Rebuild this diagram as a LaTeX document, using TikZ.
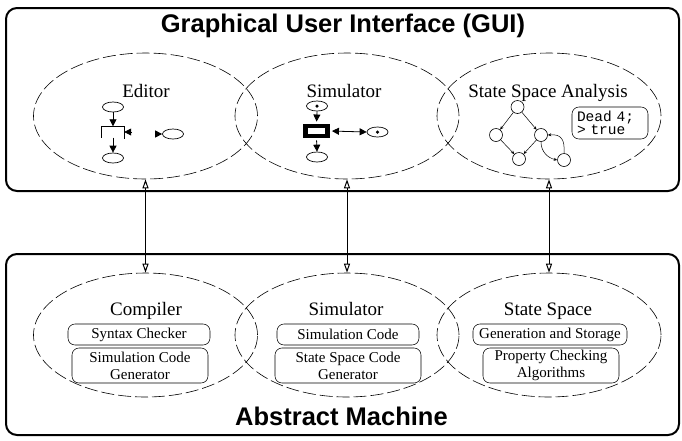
\documentclass[tikz,border=0pt]{standalone}
\usepackage{fontspec}
\setmainfont{Liberation Serif}
\setsansfont{Liberation Sans}
\setmonofont{Liberation Mono}
\usetikzlibrary{shapes.geometric,arrows.meta}
\begin{document}
\begin{tikzpicture}[x=1pt,y=-1pt]
\tikzset{
 bigbox/.style={draw, line width=2pt, rounded corners=11pt, inner sep=0},
 ttl/.style={font=\fontsize{25.5}{30}\selectfont\sffamily\bfseries, anchor=base, inner sep=0},
 zone/.style={draw, ellipse, dash pattern=on 13pt off 4pt, line width=0.6pt, minimum width=224pt, inner sep=0},
 lbl/.style={font=\fontsize{19}{22}\selectfont, anchor=base, inner sep=0},
 part/.style={draw, line width=0.55pt, rounded corners=7pt, align=center, font=\fontsize{15}{17}\selectfont, inner sep=0},
 place/.style={draw, ellipse, line width=0.7pt, minimum width=21pt, minimum height=10pt, inner sep=0},
 tok/.style={circle, fill, minimum size=3.5pt, inner sep=0},
 pnarc/.style={line width=0.8pt, -{Triangle[length=7pt,width=7pt]}},
 state/.style={draw, circle, line width=0.6pt, minimum size=13pt, inner sep=0},
 sarc/.style={line width=0.5pt, -{Stealth[length=3.5pt,width=3pt]}},
 link/.style={line width=1pt, {Triangle[open,length=9pt,width=6pt]}-{Triangle[open,length=9pt,width=6pt]}},
}
\useasboundingbox (0,0) rectangle (682,440);

% outer boxes
\node[bigbox, minimum width=673pt, minimum height=183pt] (gui) at (342.5,99.5) {};
\node[bigbox, minimum width=673pt, minimum height=181pt] (am) at (342.5,344.5) {};
\node[ttl] (guititle) at (343,32) {Graphical User Interface (GUI)};
\node[ttl] (amtitle) at (341.5,425) {Abstract Machine};

% ellipses
\node[zone, minimum height=126pt] (ged) at (145.5,116) {};
\node[zone, minimum height=126pt] (gsim) at (347,116) {};
\node[zone, minimum height=126pt] (gssa) at (549,116) {};
\node[zone, minimum height=124pt] (bcomp) at (145.5,335) {};
\node[zone, minimum height=124pt] (bsim) at (347,335) {};
\node[zone, minimum height=124pt] (bss) at (549,335) {};

% labels
\node[lbl] (ledit) at (146,97) {Editor};
\node[lbl] (lsim) at (344,97) {Simulator};
\node[lbl] (lssa) at (548,97) {State Space Analysis};
\node[lbl] (lcomp) at (146,315) {Compiler};
\node[lbl] (lbsim) at (346,315) {Simulator};
\node[lbl] (lss) at (548,315) {State Space};

% parts
\node[part, minimum width=142pt, minimum height=21pt] (syn) at (139,334.5) {Syntax Checker};
\node[part, minimum width=136pt, minimum height=35pt] (scg) at (140,365.5) {Simulation Code\\Generator};
\node[part, minimum width=142pt, minimum height=21pt] (simc) at (348,334.5) {Simulation Code};
\node[part, minimum width=146pt, minimum height=35pt] (sscg) at (348,365.5) {State Space Code\\Generator};
\node[part, minimum width=154pt, minimum height=21pt] (gas) at (550,334.5) {Generation and Storage};
\node[part, minimum width=136pt, minimum height=35pt] (pca) at (551,365.5) {Property Checking\\Algorithms};

% links
\draw[link] (ged.south) -- (bcomp.north);
\draw[link] (gsim.south) -- (bsim.north);
\draw[link] (gssa.south) -- (bss.north);

% editor icons
\node[place] (ep1) at (113,107) {};
\node[minimum width=22pt, minimum height=11pt, inner sep=0] (et) at (113,132) {};
\draw[line width=0.8pt] (et.south west) -- (et.north west) -- (et.north east) -- ([yshift=-1pt]et.south east);
\node[place] (ep2) at (113,158) {};
\node[place] (ep3) at (173,134) {};
\coordinate (etin) at (132,132);
\coordinate (ep3in) at (156,134);
\draw[pnarc] (ep1.south) -- (et.north);
\draw[pnarc] (et.south) -- (ep2.north);
\draw[pnarc] (etin) -- (et.east);
\draw[pnarc] (ep3in) -- (ep3.west);

% simulator icons
\node[place] (sp1) at (317,106) {};
\node[tok] (sp1t) at (sp1) {};
\node[draw, line width=4.5pt, minimum width=22pt, minimum height=10pt, inner sep=0] (st) at (316.5,131) {};
\node[place] (sp2) at (317,157) {};
\node[place] (sp3) at (377.5,132) {};
\node[tok] (sp3t) at (sp3) {};
\draw[pnarc, shorten >=2.2pt] (sp1.south) -- (st.north);
\draw[pnarc, shorten <=2.2pt] (st.south) -- (sp2.north);
\draw[line width=0.8pt, {Triangle[length=7pt,width=7pt]}-{Triangle[length=7pt,width=7pt]}, shorten <=2.2pt] (st.east) -- (sp3.west);

% state space graph
\node[state] (g1) at (517.5,107) {};
\node[state] (g2) at (496,135) {};
\node[state] (g3) at (541,135) {};
\node[state] (g4) at (519,159) {};
\node[state] (g5) at (564,160) {};
\draw[sarc] (g1) -- (g2);
\draw[sarc] (g1) -- (g3);
\draw[sarc] (g2) -- (g4);
\draw[sarc] (g3) -- (g4);
\draw[sarc] (g3.south) .. controls (541,152) and (548,158) .. (g5.west);
\draw[sarc] (g5.north) .. controls (565,139) and (561,134) .. (g3.east);

% result box
\node[draw, line width=0.55pt, rounded corners=7pt, minimum width=76pt, minimum height=32pt, text width=66pt, inner xsep=5pt, inner ysep=0, align=left, font=\fontsize{14.5}{13}\selectfont\ttfamily] (dead) at (610,123) {Dead 4;\\> true};
\end{tikzpicture}
\end{document}
